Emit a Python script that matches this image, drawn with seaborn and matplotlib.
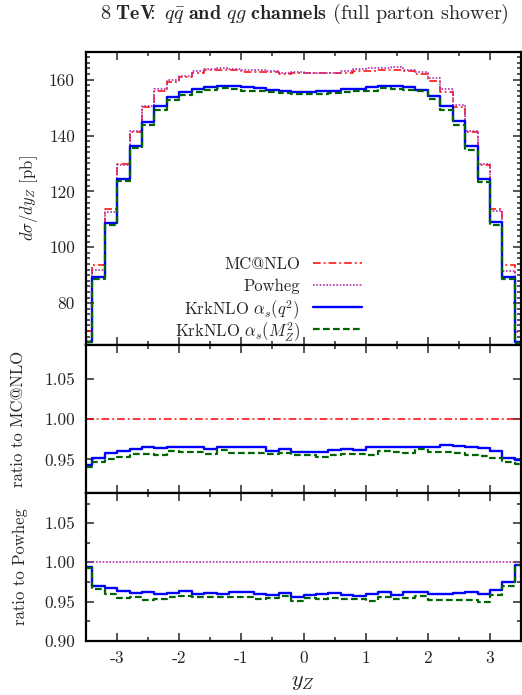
import numpy as np
import matplotlib
matplotlib.use("Agg")
import matplotlib.pyplot as plt
from matplotlib.ticker import MultipleLocator, FixedLocator
import seaborn as sns

# bin centres, 0.2 wide, from -3.6 to 3.6
y_z = np.round(np.arange(-3.5, 3.51, 0.2), 2)

# d sigma / dy_Z [pb]
mcatnlo = [70.0, 93.7, 113.6, 129.7, 141.4, 150.1, 156.1, 159.2, 161.1, 162.3, 163.3, 163.3,
           163.3, 162.9, 162.7, 162.6, 162.0, 162.3, 162.3, 162.5, 162.3, 162.4, 163.0, 163.0,
           163.5, 163.3, 163.0, 161.9, 159.5, 155.5, 150.2, 141.1, 129.3, 113.6, 93.7, 69.5]
powheg = [66.4, 92.0, 112.5, 129.4, 141.7, 150.7, 156.8, 160.0, 161.4, 163.1, 163.7, 164.3,
          163.8, 163.4, 163.5, 163.0, 162.3, 162.8, 162.3, 162.4, 162.4, 163.2, 163.9, 164.1,
          164.0, 164.4, 163.5, 162.6, 160.5, 156.8, 151.1, 141.6, 129.8, 113.1, 91.5, 66.2]
krk_q2 = [66.0, 89.2, 108.8, 124.6, 136.2, 145.0, 150.5, 153.8, 155.6, 156.6, 157.3, 157.7,
          157.6, 157.2, 157.0, 156.3, 156.0, 155.6, 155.6, 155.9, 156.1, 156.5, 156.8, 157.5,
          157.8, 157.6, 157.3, 156.4, 154.0, 150.5, 145.2, 136.2, 124.6, 109.1, 89.2, 66.0]
krk_mz = [65.9, 88.7, 107.9, 123.6, 135.4, 143.6, 149.2, 152.8, 154.5, 155.6, 156.2, 157.0,
          156.5, 156.1, 155.9, 155.6, 155.2, 155.0, 155.0, 154.9, 155.1, 155.4, 156.0, 155.9,
          157.0, 156.7, 156.2, 155.9, 153.0, 149.1, 143.9, 134.9, 123.3, 108.1, 88.8, 65.7]

# ratios to MC@NLO
r_mc_q2 = [0.943, 0.952, 0.958, 0.961, 0.963, 0.966, 0.964, 0.966, 0.966, 0.965, 0.9635, 0.966,
           0.965, 0.965, 0.965, 0.961, 0.963, 0.959, 0.959, 0.9595, 0.962, 0.9635, 0.962, 0.966,
           0.965, 0.965, 0.965, 0.966, 0.9655, 0.968, 0.967, 0.965, 0.964, 0.960, 0.9516, 0.949]
r_mc_mz = [0.941, 0.947, 0.950, 0.953, 0.957, 0.957, 0.956, 0.960, 0.959, 0.959, 0.957, 0.962,
           0.958, 0.958, 0.958, 0.957, 0.958, 0.955, 0.955, 0.9536, 0.956, 0.957, 0.957, 0.956,
           0.960, 0.9595, 0.958, 0.963, 0.959, 0.959, 0.958, 0.956, 0.954, 0.9516, 0.9474, 0.9445]
# ratios to Powheg
r_pw_q2 = [0.994, 0.970, 0.967, 0.963, 0.961, 0.962, 0.960, 0.961, 0.964, 0.960, 0.961, 0.960,
           0.962, 0.962, 0.960, 0.9588, 0.961, 0.9555, 0.9588, 0.9597, 0.961, 0.9588, 0.9567, 0.9597,
           0.962, 0.9588, 0.962, 0.962, 0.9597, 0.960, 0.961, 0.962, 0.9597, 0.9644, 0.975, 0.997]
r_pw_mz = [0.9925, 0.966, 0.959, 0.9547, 0.956, 0.9525, 0.9534, 0.9555, 0.9576, 0.9555, 0.9555, 0.9555,
           0.956, 0.956, 0.9534, 0.955, 0.9567, 0.9504, 0.9546, 0.953, 0.9546, 0.9538, 0.953, 0.9504,
           0.9555, 0.9538, 0.9546, 0.9567, 0.9525, 0.9513, 0.9517, 0.9525, 0.9496, 0.958, 0.9704, 0.996]
ones = [1.0] * len(y_z)

labels = ["MC@NLO", "Powheg", r"KrkNLO $\alpha_s(q^2)$", r"KrkNLO $\alpha_s(M_Z^2)$"]

sns.set_style("ticks")
plt.rcParams["font.family"] = ["cmr10", "DejaVu Serif"]
plt.rcParams["mathtext.fontset"] = "cm"
plt.rcParams["axes.formatter.use_mathtext"] = True
plt.rcParams["axes.unicode_minus"] = False

styles = {
    "mc": dict(color="#ff0000", linestyle=(0, (5, 2, 1.2, 2)), linewidth=1.1),
    "pw": dict(color="#b030b0", linestyle=(0, (1, 1)), linewidth=1.2),
    "q2": dict(color="#0000ff", linestyle="-", linewidth=1.7),
    "mz": dict(color="#006400", linestyle=(0, (3, 1.5)), linewidth=1.6),
}

fig = plt.figure(figsize=(5.22, 6.95), dpi=100)
ax1 = fig.add_axes([0.1648, 0.5036, 0.8333, 0.422])
ax2 = fig.add_axes([0.1648, 0.2902, 0.8333, 0.2134])
ax3 = fig.add_axes([0.1648, 0.0781, 0.8333, 0.2121])


def steps(ax, y, key):
    sns.lineplot(x=y_z, y=y, ax=ax, drawstyle="steps-mid", errorbar=None,
                 legend=False, **styles[key])


steps(ax1, mcatnlo, "mc")
steps(ax1, powheg, "pw")
steps(ax1, krk_q2, "q2")
steps(ax1, krk_mz, "mz")

steps(ax2, ones, "mc")
steps(ax2, r_mc_q2, "q2")
steps(ax2, r_mc_mz, "mz")

steps(ax3, ones, "pw")
steps(ax3, r_pw_q2, "q2")
steps(ax3, r_pw_mz, "mz")

# gnuplot-style key: label right-aligned, sample to its right, even rows
for i, (key, lab) in enumerate(zip(["mc", "pw", "q2", "mz"], labels)):
    yk = 0.2786 - i * 0.0746
    ax1.text(0.492, yk, lab, transform=ax1.transAxes, ha="right",
             va="center_baseline", fontsize=12)
    ax1.plot([0.522, 0.6345], [yk, yk], transform=ax1.transAxes, **styles[key])

ax1.set_ylim(65, 170)
ax1.yaxis.set_major_locator(FixedLocator([80, 100, 120, 140, 160]))
ax1.yaxis.set_minor_locator(MultipleLocator(2))
ax1.set_yticklabels(["80", "100", "120", "140", "160"])

ax2.set_ylim(0.908, 1.092)
ax2.yaxis.set_major_locator(FixedLocator([0.95, 1.0, 1.05]))
ax2.yaxis.set_minor_locator(FixedLocator([]))
ax2.set_yticklabels(["0.95", "1.00", "1.05"])

ax3.set_ylim(0.90, 1.088)
ax3.yaxis.set_major_locator(FixedLocator([0.90, 0.95, 1.0, 1.05]))
ax3.yaxis.set_minor_locator(MultipleLocator(0.025))
ax3.set_yticklabels(["0.90", "0.95", "1.00", "1.05"])

for ax in (ax1, ax2, ax3):
    ax.set_xlim(-3.5, 3.5)
    ax.xaxis.set_major_locator(FixedLocator([-3, -2, -1, 0, 1, 2, 3]))
    ax.xaxis.set_minor_locator(MultipleLocator(0.5))
    ax.tick_params(which="both", direction="in", top=True, right=True,
                   labelsize=12.5, width=1.1, pad=8)
    ax.tick_params(which="major", length=6)
    ax.tick_params(which="minor", length=3)
    for s in ax.spines.values():
        s.set_linewidth(1.6)
        s.set_color("black")
    ax.set_xlabel("")
    ax.set_ylabel("")
    if ax is not ax3:
        ax.set_xticklabels([])

ax3.set_xticklabels(["-3", "-2", "-1", "0", "1", "2", "3"])
ax3.tick_params(axis="x", pad=7)

fig.text(29 / 522, 1 - 198 / 695, r"$d\sigma/dy_Z$ [pb]", rotation=90,
         ha="center", va="center", fontsize=12)
fig.text(18 / 522, 1 - 419 / 695, "ratio to MC@NLO", rotation=90,
         ha="center", va="center", fontsize=12)
fig.text(20 / 522, 1 - 567 / 695, "ratio to Powheg", rotation=90,
         ha="center", va="center", fontsize=12)
fig.text(303 / 522, 1 - 682 / 695, r"$y_Z$", ha="center", va="center", fontsize=16)
fig.text(304 / 522, 1 - 14 / 695,
         r"$\mathbf{8\ TeV}\!\!\!\mathbf{:}\ q\bar{q}\ \mathbf{and}\ qg\ \mathbf{channels}$ (full parton shower)",
         ha="center", va="center", fontsize=14.5)

fig.savefig("out.png", dpi=100)
